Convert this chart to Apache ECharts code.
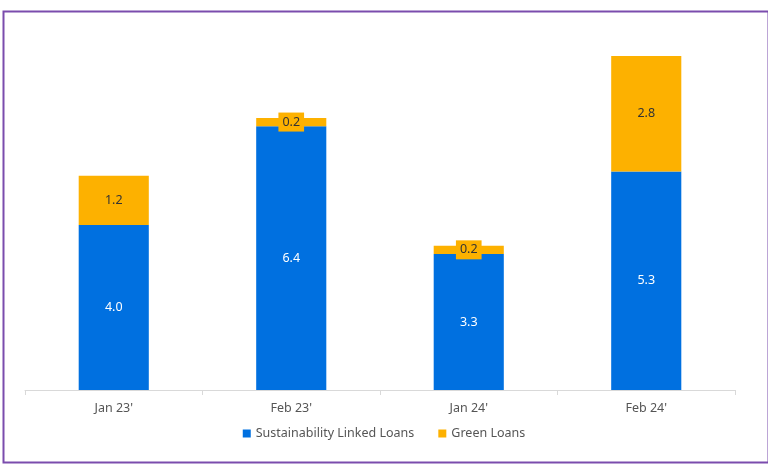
<!DOCTYPE html>
<html>
<head>
<meta charset="utf-8">
<script src="https://cdn.jsdelivr.net/npm/echarts@6/dist/echarts.min.js"></script>
<style>
html,body{margin:0;padding:0;background:#fff;}
#c{width:768px;height:471px;}
</style>
</head>
<body>
<div id="c"></div>
<script>
const categories = ["Jan 23'", "Feb 23'", "Jan 24'", "Feb 24'"];
const sustainabilityLinked = [4.0, 6.4, 3.3, 5.3];
const greenLoans = [1.2, 0.2, 0.2, 2.8];

const chart = echarts.init(document.getElementById('c'));
const font = '"Noto Sans", sans-serif';
chart.setOption({
  animation: false,
  backgroundColor: '#fff',
  graphic: [{
    type: 'rect', left: 1, top: 9, z: 100,
    shape: { width: 765, height: 451 },
    style: { fill: 'none', stroke: '#7b4cad', lineWidth: 2 }
  }],
  grid: { left: 25, right: 33, top: 19, bottom: 81 },
  legend: {
    bottom: 26, left: 'center',
    itemWidth: 8, itemHeight: 8, itemGap: 24,
    icon: 'rect',
    textStyle: { fontFamily: font, fontSize: 12.5, color: '#555' },
    data: ['Sustainability Linked Loans', 'Green Loans']
  },
  xAxis: {
    type: 'category', data: categories,
    axisLine: { lineStyle: { color: '#d9d9d9' } },
    axisTick: { show: true, alignWithLabel: false, length: 5, lineStyle: { color: '#d9d9d9' } },
    axisLabel: { fontFamily: font, fontSize: 12.5, color: '#555', margin: 12 }
  },
  yAxis: {
    type: 'value', min: 0, max: 9, show: false, splitLine: { show: false }
  },
  series: [
    {
      name: 'Sustainability Linked Loans', type: 'bar', stack: 'a',
      data: sustainabilityLinked, barWidth: '39.5%',
      itemStyle: { color: '#0070e0' },
      label: {
        show: true, position: 'inside', color: '#fff', fontFamily: font, fontSize: 12.5,
        formatter: p => p.value.toFixed(1)
      }
    },
    {
      name: 'Green Loans', type: 'bar', stack: 'a',
      data: greenLoans, barWidth: '39.5%',
      itemStyle: { color: '#fdb100' },
      label: {
        show: true, position: 'inside', color: '#333', fontFamily: font, fontSize: 12.5,
        backgroundColor: '#fdb100', padding: [3, 4],
        formatter: p => p.value.toFixed(1)
      }
    }
  ]
});
</script>
</body>
</html>
